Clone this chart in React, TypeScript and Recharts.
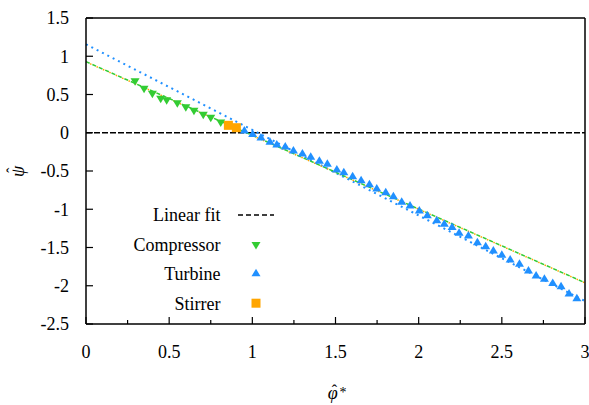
import React from "react";
import {
  ComposedChart,
  Line,
  Scatter,
  XAxis,
  YAxis,
  CartesianGrid,
  Legend,
} from "recharts";

// measured points
const compressorPhi = [0.295, 0.349, 0.399, 0.449, 0.485, 0.549, 0.6, 0.649, 0.705, 0.75, 0.81];
const compressorPsi = [0.68, 0.581, 0.516, 0.45, 0.432, 0.393, 0.341, 0.293, 0.241, 0.201, 0.14];

const stirrerPhi = [0.856, 0.904];
const stirrerPsi = [0.097, 0.066];

const turbinePhi = [
  0.952, 1.002, 1.052, 1.106, 1.147, 1.198, 1.247, 1.301, 1.351, 1.403, 1.451, 1.508, 1.55,
  1.603, 1.654, 1.704, 1.748, 1.802, 1.848, 1.898, 1.948, 2.004, 2.052, 2.109, 2.154, 2.201,
  2.243, 2.299, 2.353, 2.403, 2.449, 2.5, 2.55, 2.606, 2.66, 2.706, 2.756, 2.806, 2.856,
  2.904, 2.951,
];
const turbinePsi = [
  0.023, -0.023, -0.069, -0.125, -0.16, -0.186, -0.239, -0.278, -0.321, -0.373, -0.412, -0.487,
  -0.523, -0.574, -0.627, -0.679, -0.735, -0.784, -0.836, -0.909, -0.958, -1.023, -1.085,
  -1.15, -1.197, -1.239, -1.315, -1.35, -1.437, -1.489, -1.546, -1.602, -1.664, -1.72, -1.808,
  -1.873, -1.916, -1.969, -2.012, -2.108, -2.169,
];

// fitted lines, evaluated at the ends of the axis
const fitPhi = [0, 3];
const zeroFit = [0, 0];
const compressorFit = [0.929, -1.96];
const stirrerFit = [0.925, -1.962];
const turbineFit = [1.156, -2.2];

const xTicks = [0, 0.25, 0.5, 0.75, 1, 1.25, 1.5, 1.75, 2, 2.25, 2.5, 2.75, 3];
const yTicks = [-2.5, -2.25, -2, -1.75, -1.5, -1.25, -1, -0.75, -0.5, -0.25, 0, 0.25, 0.5, 0.75, 1, 1.25, 1.5];
const xGrid = [0.5, 1, 1.5, 2, 2.5];
const yGrid = [-2, -1.5, -1, -0.5, 0.5, 1];

const GREEN = "#33cc33";
const BLUE = "#2090ff";
const ORANGE = "#ffa500";
const serif = { fontFamily: "'Liberation Serif', 'DejaVu Serif', serif" };

const zip = (xs: number[], ys: number[]) => xs.map((x, i) => ({ x, y: ys[i] }));

const isMajor = (v: number) => Math.abs(v * 2 - Math.round(v * 2)) < 1e-6;
const fmt = (v: number) => String(v);

function DownTriangle({ cx, cy, fill }: any) {
  return (
    <path
      d={`M${cx - 4.5},${cy - 2.5}L${cx + 4.5},${cy - 2.5}L${cx},${cy + 5}Z`}
      fill={fill}
    />
  );
}

function UpTriangle({ cx, cy, fill }: any) {
  return (
    <path
      d={`M${cx - 4.5},${cy + 2.5}L${cx + 4.5},${cy + 2.5}L${cx},${cy - 5}Z`}
      fill={fill}
    />
  );
}

function Square({ cx, cy, fill }: any) {
  return <rect x={cx - 4.5} y={cy - 4.5} width={9} height={9} fill={fill} />;
}

// inward tick marks; labels only on the bottom / left
function BottomTick({ x, y, payload }: any) {
  const major = isMajor(payload.value);
  return (
    <g>
      <line x1={x} x2={x} y1={y} y2={y - (major ? 7 : 4)} stroke="#000" strokeWidth={1.2} />
      {major && (
        <text x={x} y={y + 34} textAnchor="middle" style={serif} fontSize={18} fill="#000">
          {fmt(payload.value)}
        </text>
      )}
    </g>
  );
}

function TopTick({ x, y, payload }: any) {
  const major = isMajor(payload.value);
  return <line x1={x} x2={x} y1={y} y2={y + (major ? 7 : 4)} stroke="#000" strokeWidth={1.2} />;
}

function LeftTick({ x, y, payload }: any) {
  const major = isMajor(payload.value);
  return (
    <g>
      <line x1={x} x2={x + (major ? 7 : 4)} y1={y} y2={y} stroke="#000" strokeWidth={1.2} />
      {major && (
        <text x={x - 17} y={y} dy="0.35em" textAnchor="end" style={serif} fontSize={18} fill="#000">
          {fmt(payload.value)}
        </text>
      )}
    </g>
  );
}

function RightTick({ x, y, payload }: any) {
  const major = isMajor(payload.value);
  return <line x1={x} x2={x - (major ? 7 : 4)} y1={y} y2={y} stroke="#000" strokeWidth={1.2} />;
}

const legendRows = [
  { label: "Linear fit", kind: "line" },
  { label: "Compressor", kind: "down" },
  { label: "Turbine", kind: "up" },
  { label: "Stirrer", kind: "square" },
];

// key box sits inside the frame, clear of the tick marks
function KeyBox() {
  return (
    <svg width={196} height={122} style={{ display: "block" }}>
      {legendRows.map((row, i) => {
        const cy = 20 + i * 29.4;
        return (
          <g key={row.label}>
            <text x={126.5} y={cy} dy="0.35em" textAnchor="end" style={serif} fontSize={18} fill="#000">
              {row.label}
            </text>
            {row.kind === "line" && (
              <line x1={144} x2={180} y1={cy} y2={cy} stroke="#000" strokeWidth={1.5} strokeDasharray="5 3" />
            )}
            {row.kind === "down" && <DownTriangle cx={162} cy={cy} fill={GREEN} />}
            {row.kind === "up" && <UpTriangle cx={162} cy={cy} fill={BLUE} />}
            {row.kind === "square" && <Square cx={162} cy={cy} fill={ORANGE} />}
          </g>
        );
      })}
    </svg>
  );
}

// hat-phi with a starred superscript; the hat is pulled back over the phi
function XLabel({ viewBox }: any) {
  const cx = viewBox.x + viewBox.width / 2 - 3;
  return (
    <text x={cx - 4.75} y={399} style={serif} fill="#000" fontSize={18}>
      <tspan fontStyle="italic">φ</tspan>
      <tspan dx={-5.9} dy={-3} fontSize={16}>ˆ</tspan>
      <tspan dx={2.35} dy={1} fontSize={14}>*</tspan>
    </text>
  );
}

function YLabel({ viewBox }: any) {
  const cy = viewBox.y + viewBox.height / 2;
  return (
    <text
      x={-6}
      y={7}
      transform={`translate(17 ${cy}) rotate(-90)`}
      style={serif}
      fill="#000"
      fontSize={18}
    >
      <tspan fontStyle="italic">ψ</tspan>
      <tspan dx={-7.15} dy={-6} fontSize={16}>ˆ</tspan>
    </text>
  );
}

export default function App() {
  return (
    <div style={{ position: "absolute", left: 0, top: 0 }}>
      <ComposedChart width={589} height={405} margin={{ top: 0, right: 0, bottom: 0, left: 0 }}>
        <CartesianGrid
          stroke="#bdbdbd"
          strokeDasharray="1.5 2.5"
          horizontalValues={yGrid}
          verticalValues={xGrid}
        />
        <XAxis
          xAxisId="bottom"
          dataKey="x"
          type="number"
          domain={[0, 3]}
          ticks={xTicks}
          orientation="bottom"
          height={81}
          tickSize={0}
          tickMargin={0}
          tickLine={false}
          tick={<BottomTick />}
          axisLine={{ stroke: "#000", strokeWidth: 1.5 }}
          label={<XLabel />}
        />
        <XAxis
          xAxisId="top"
          type="number"
          domain={[0, 3]}
          ticks={xTicks}
          orientation="top"
          height={18}
          tickSize={0}
          tickMargin={0}
          tickLine={false}
          tick={<TopTick />}
          axisLine={{ stroke: "#000", strokeWidth: 1.5 }}
        />
        <YAxis
          yAxisId="left"
          dataKey="y"
          type="number"
          domain={[-2.5, 1.5]}
          ticks={yTicks}
          orientation="left"
          width={86}
          tickSize={0}
          tickMargin={0}
          tickLine={false}
          tick={<LeftTick />}
          axisLine={{ stroke: "#000", strokeWidth: 1.5 }}
          label={<YLabel />}
        />
        <YAxis
          yAxisId="right"
          type="number"
          domain={[-2.5, 1.5]}
          ticks={yTicks}
          orientation="right"
          width={4}
          tickSize={0}
          tickMargin={0}
          tickLine={false}
          tick={<RightTick />}
          axisLine={{ stroke: "#000", strokeWidth: 1.5 }}
        />

        <Line
          xAxisId="bottom"
          yAxisId="left"
          data={zip(fitPhi, zeroFit)}
          dataKey="y"
          stroke="#000"
          strokeWidth={1.5}
          strokeDasharray="6 2"
          dot={false}
          isAnimationActive={false}
        />
        <Line
          xAxisId="bottom"
          yAxisId="left"
          data={zip(fitPhi, turbineFit)}
          dataKey="y"
          stroke={BLUE}
          strokeWidth={2}
          strokeDasharray="2 4"
          dot={false}
          isAnimationActive={false}
        />
        <Line
          xAxisId="bottom"
          yAxisId="left"
          data={zip(fitPhi, compressorFit)}
          dataKey="y"
          stroke={GREEN}
          strokeWidth={1.5}
          strokeDasharray="4 3"
          dot={false}
          isAnimationActive={false}
        />
        <Line
          xAxisId="bottom"
          yAxisId="left"
          data={zip(fitPhi, stirrerFit)}
          dataKey="y"
          stroke={ORANGE}
          strokeWidth={1.5}
          strokeDasharray="1.5 5.5"
          strokeDashoffset={-4.5}
          dot={false}
          isAnimationActive={false}
        />

        <Scatter
          xAxisId="bottom"
          yAxisId="left"
          data={zip(compressorPhi, compressorPsi)}
          fill={GREEN}
          shape={<DownTriangle />}
          isAnimationActive={false}
        />
        <Scatter
          xAxisId="bottom"
          yAxisId="left"
          data={zip(turbinePhi, turbinePsi)}
          fill={BLUE}
          shape={<UpTriangle />}
          isAnimationActive={false}
        />
        <Scatter
          xAxisId="bottom"
          yAxisId="left"
          data={zip(stirrerPhi, stirrerPsi)}
          fill={ORANGE}
          shape={<Square />}
          isAnimationActive={false}
        />

        <Legend
          layout="horizontal"
          verticalAlign="middle"
          align="center"
          content={() => <KeyBox />}
          wrapperStyle={{ left: 94, top: 195, width: 196, height: 122, backgroundColor: "#fff" }}
        />
      </ComposedChart>
    </div>
  );
}
